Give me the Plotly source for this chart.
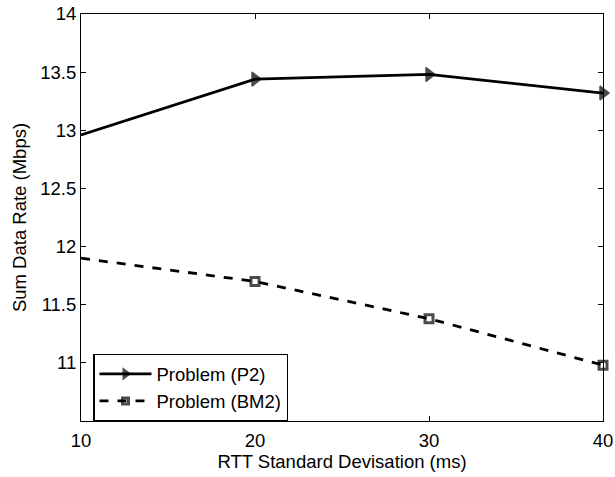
import plotly.graph_objects as go

rtt_std = [10, 20, 30, 40]
p2_rate = [12.96, 13.44, 13.48, 13.32]
bm2_rate = [11.90, 11.70, 11.38, 10.98]

x_ticks = [10, 20, 30, 40]
y_ticks = [11, 11.5, 12, 12.5, 13, 13.5, 14]
y_tick_text = ["11", "11.5", "12", "12.5", "13", "13.5", "14"]

FONT = "Liberation Sans, Arial"
FS = 18.5

fig = go.Figure()
fig.add_trace(go.Scatter(
    x=rtt_std, y=p2_rate, mode="lines+markers", name="Problem (P2)",
    line=dict(color="black", width=2.8),
    marker=dict(symbol="triangle-right", size=[0, 12, 12, 12], color="black",
                line=dict(color="black", width=1.5)),
    cliponaxis=False,
))
fig.add_trace(go.Scatter(
    x=rtt_std, y=bm2_rate, mode="lines+markers", name="Problem (BM2)",
    line=dict(color="black", width=2.8, dash="dash"),
    marker=dict(symbol="square-open", size=[0, 8, 8, 8], color="black",
                line=dict(color="black", width=3)),
    cliponaxis=False,
))

axis_common = dict(
    showgrid=False, zeroline=False, showline=True, linecolor="black", linewidth=1,
    mirror="ticks", ticks="inside", ticklen=5, tickcolor="black", automargin=False,
    ticklabeloverflow="allow",
    tickfont=dict(family=FONT, size=FS, color="black"),
)
fig.update_xaxes(range=[10, 40], tickvals=x_ticks, ticklabelstandoff=3,
                 title=dict(text="RTT Standard Devisation (ms)", standoff=2,
                            font=dict(family=FONT, size=FS, color="black")),
                 **axis_common)
fig.update_yaxes(range=[10.5, 14], tickvals=y_ticks, ticktext=y_tick_text,
                 title=dict(text="Sum Data Rate (Mbps)", standoff=8,
                            font=dict(family=FONT, size=FS, color="black")),
                 **axis_common)

fig.update_layout(
    width=615, height=477,
    margin=dict(l=81, r=12, t=14, b=56),
    plot_bgcolor="white", paper_bgcolor="white",
    showlegend=True,
    legend=dict(x=0.023, y=0.165, xanchor="left", yanchor="top",
                bgcolor="white", bordercolor="black", borderwidth=1.5,
                font=dict(family=FONT, size=FS, color="black"),
                itemwidth=52, tracegroupgap=0),
)

# remove the page's default 8px body margin so the figure fills the window
fig.write_html("out.html",
               config={"displayModeBar": False},
               post_script="document.body.style.margin='0';document.body.style.overflow='hidden';")
